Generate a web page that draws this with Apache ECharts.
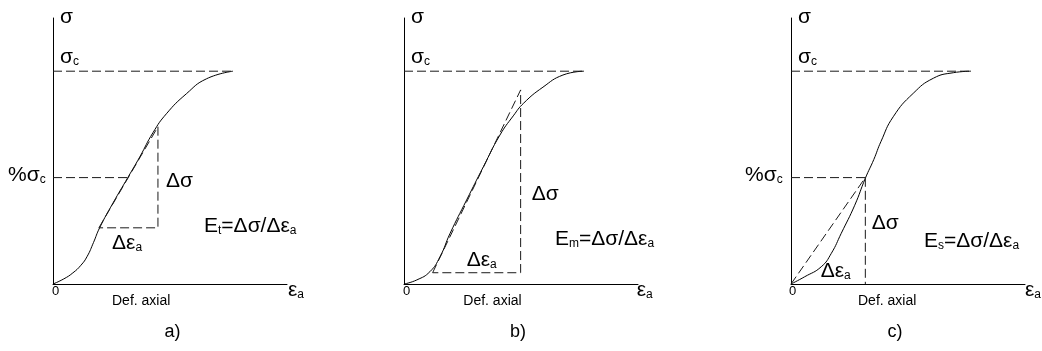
<!DOCTYPE html>
<html>
<head>
<meta charset="utf-8">
<script src="https://cdn.jsdelivr.net/npm/echarts@6/dist/echarts.min.js"></script>
<style>
html,body{margin:0;padding:0;background:#fff;}
#chart{width:1042px;height:351px;}
</style>
</head>
<body>
<div id="chart"></div>
<script>
// ---- data (strain units: εa at σc = 100; stress units: σc = 100) ----
const strainA = [0, 6, 11, 15.5, 19, 22.5, 25.9, 33.3, 41.7, 48.2, 55.6, 63, 74.1, 85.2, 100];
const stressA = [0, 2.4, 5.2, 8.8, 13, 19.5, 26.4, 38, 50.2, 59.7, 71.2, 80, 89.4, 96.4, 100];
const strainB = [0, 7.1, 14.4, 20, 25.6, 34.8, 44.1, 53.3, 60.7, 66.5, 77.2, 88.3, 100];
const stressB = [0, 1.9, 5.8, 12.8, 23.8, 39.5, 55.1, 70, 79, 85, 92.5, 98.2, 100];
const strainC = [0, 7.6, 16.8, 22.4, 27.9, 35.4, 41.3, 46, 50, 56.8, 67.9, 79.1, 90.2, 100];
const stressC = [0, 3.4, 8.1, 14.4, 23.8, 37, 49.7, 58.5, 67, 78.6, 89.6, 96.7, 99.3, 100];

const sigmaC = 100;          // peak strength level
const strainAtPeak = 100;    // strain at σc
const pctSigmaC = 50;        // %σc level
// a) tangent modulus triangle
const tanA_start = [25.5, 26.4];
const tanA_end = [58.3, 73.9];
const pctStrainA = 41.7;
// b) average modulus triangle
const avgB_start = [15.9, 5.3];
const avgB_end = [64.8, 91.2];
// c) secant modulus
const secC_end = [41.3, 50];

const axisMaxX = 130, axisMaxY = 125;

// ---- helpers ----
const zip = (xs, ys) => xs.map((x, i) => [x, ys[i]]);
const FONT = "'Liberation Sans', Arial, sans-serif";
const dash = { color: '#1a1a1a', width: 1, type: [9, 4] };

function curve(idx, xs, ys) {
  return { type: 'line', xAxisIndex: idx, yAxisIndex: idx, data: zip(xs, ys),
    smooth: 0.5, showSymbol: false, silent: true,
    lineStyle: { color: '#000', width: 1 } };
}
function dashed(idx, pts) {
  return { type: 'line', xAxisIndex: idx, yAxisIndex: idx, data: pts,
    showSymbol: false, silent: true, lineStyle: dash };
}

const gridLefts = [53, 404, 791];
const grids = gridLefts.map(l => ({ left: l, top: 18, width: 234, height: 266 }));
const xAxes = gridLefts.map((l, i) => ({ type: 'value', gridIndex: i, min: 0, max: axisMaxX,
  axisLine: { show: true, onZero: false, lineStyle: { color: '#000', width: 1 } },
  axisTick: { show: false }, axisLabel: { show: false }, splitLine: { show: false } }));
const yAxes = gridLefts.map((l, i) => ({ type: 'value', gridIndex: i, min: 0, max: axisMaxY,
  axisLine: { show: true, onZero: false, lineStyle: { color: '#000', width: 1 } },
  axisTick: { show: false }, axisLabel: { show: false }, splitLine: { show: false } }));

const series = [
  // a)
  curve(0, strainA, stressA),
  dashed(0, [[0, sigmaC], [strainAtPeak, sigmaC]]),
  dashed(0, [[0, pctSigmaC], [pctStrainA, pctSigmaC]]),
  dashed(0, [tanA_start, tanA_end, [tanA_end[0], tanA_start[1]], tanA_start]),
  // b)
  curve(1, strainB, stressB),
  dashed(1, [[0, sigmaC], [strainAtPeak, sigmaC]]),
  dashed(1, [avgB_start, avgB_end, [avgB_end[0], avgB_start[1]], avgB_start]),
  // c)
  curve(2, strainC, stressC),
  dashed(2, [[0, sigmaC], [strainAtPeak, sigmaC]]),
  dashed(2, [[0, pctSigmaC], secC_end]),
  dashed(2, [[0, 0], secC_end, [secC_end[0], 0]])
];

const rich = {
  b: { fontSize: 21, fontFamily: FONT, color: '#000', lineHeight: 22 },
  s: { fontSize: 12, fontFamily: FONT, color: '#000', lineHeight: 22, verticalAlign: 'bottom' },
  n: { fontSize: 13, fontFamily: FONT, color: '#000', lineHeight: 16 },
  d: { fontSize: 14, fontFamily: FONT, color: '#000', lineHeight: 16 },
  p: { fontSize: 18, fontFamily: FONT, color: '#000', lineHeight: 22 }
};
function T(x, y, text, align) {
  return { type: 'text', silent: true, style: { x: x, y: y, text: text, rich: rich,
    textAlign: align || 'left', textVerticalAlign: 'middle', fill: '#000' } };
}

const labels = [];
const panels = [
  { sub: 't', d: [166, 181], e: [204, 226], de: [112, 243], pct: [8, 175], zero: 52, def: 112, ea: 288, cap: 'a)', capx: 172.5 },
  { sub: 'm', d: [531.7, 194], e: [555, 239], de: [466.7, 260], pct: null, zero: 403, def: 463.3, ea: 636.7, cap: 'b)', capx: 518 },
  { sub: 's', d: [871.7, 223], e: [924, 241], de: [820.7, 271], pct: [745, 175], zero: 789, def: 858, ea: 1025, cap: 'c)', capx: 895 }
];
panels.forEach((p, i) => {
  const ax = gridLefts[i];
  labels.push(T(ax + 7, 17, '{b|σ}'));
  labels.push(T(ax + 7, 57, '{b|σ}{s|c}'));
  if (p.pct) labels.push(T(p.pct[0], p.pct[1], '{b|%σ}{s|c}'));
  labels.push(T(p.d[0], p.d[1], '{b|Δσ}'));
  labels.push(T(p.e[0], p.e[1], '{b|E}{s|' + p.sub + '}{b|=Δσ/Δε}{s|a}'));
  labels.push(T(p.de[0], p.de[1], '{b|Δε}{s|a}'));
  labels.push(T(p.zero, 291, '{n|0}'));
  labels.push(T(p.def, 301, '{d|Def. axial}'));
  labels.push(T(p.ea, 290, '{b|ε}{s|a}'));
  labels.push(T(p.capx, 332, '{p|' + p.cap + '}', 'center'));
});

const chart = echarts.init(document.getElementById('chart'), null, { renderer: 'canvas' });
chart.setOption({
  backgroundColor: '#fff',
  animation: false,
  grid: grids, xAxis: xAxes, yAxis: yAxes,
  series: series,
  graphic: { elements: labels }
});
</script>
</body>
</html>
